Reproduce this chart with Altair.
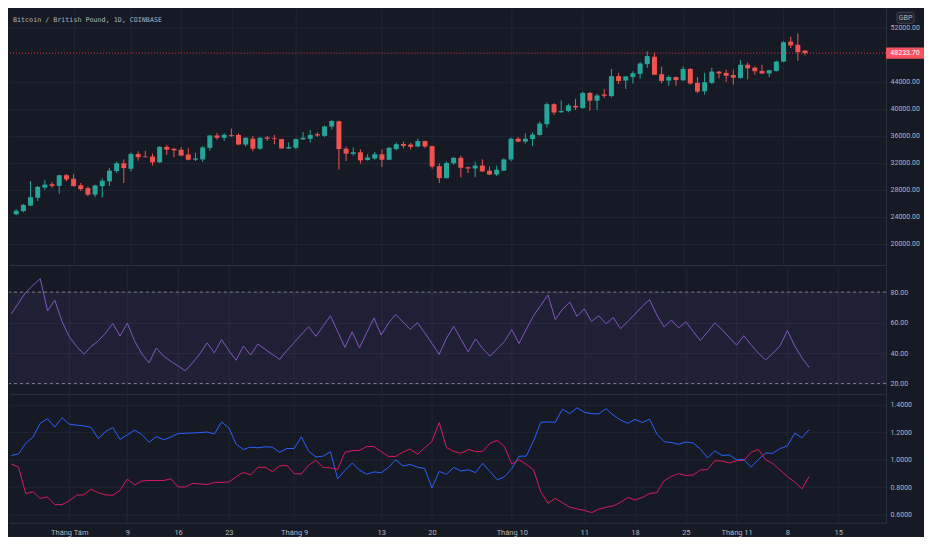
import altair as alt
import pandas as pd

# ---------------- data ----------------
start_date = "2021-07-24"

opens = [24390, 24870, 25680, 26830, 28350, 28830, 28590, 30170, 29640, 28690,
         28260, 27300, 28550, 29260, 30790, 31940, 31130, 33320, 32940, 32940,
         32080, 34370, 34090, 33940, 33230, 32460, 32510, 34230, 36050, 35710,
         36090, 36140, 34710, 35570, 34090, 35760, 35620, 35520, 34130, 34230,
         35470, 35570, 36240, 36000, 37380, 38150, 34090, 33320, 33560, 32410,
         32650, 33270, 32460, 34040, 34800, 34710, 34420, 35230, 34470, 31510,
         29740, 31940, 32750, 31360, 31170, 31600, 30840, 30270, 30840, 32510,
         35570, 35140, 35520, 36140, 37720, 40680, 39480, 39680, 40440, 40110,
         42350, 41200, 42110, 41870, 44830, 44170, 44690, 45170, 46600, 47700,
         45120, 44170, 44690, 44210, 45890, 43830, 42590, 43830, 45500, 45310,
         44980, 44550, 46510, 46080, 45600, 45220, 45600, 46980, 49950, 49470,
         48610]

highs = [25150, 25920, 29310, 28590, 29500, 29170, 30220, 30360, 30310, 29020,
         28500, 28780, 29690, 31270, 32180, 32510, 33510, 33700, 33800, 33370,
         34470, 34660, 34180, 34330, 34180, 33510, 34470, 36140, 36430, 36380,
         37050, 36380, 35810, 35950, 35810, 36000, 36140, 35560, 35040, 35620,
         36570, 36860, 36520, 37530, 38290, 38240, 34420, 34280, 33990, 33270,
         33610, 33990, 34330, 35040, 35140, 34950, 35570, 35280, 34560, 31940,
         32220, 32840, 33080, 31460, 32180, 32510, 31460, 31600, 32650, 35760,
         35810, 36380, 36520, 38150, 40970, 40820, 41250, 40770, 41490, 42490,
         42490, 42210, 42920, 45890, 45310, 44790, 45550, 46940, 48510, 48320,
         46220, 44930, 44790, 46270, 46030, 44690, 45310, 46080, 45600, 45790,
         45790, 47220, 46840, 46270, 46510, 45790, 47130, 49990, 50660, 51140,
         48660]

lows = [24290, 24680, 25580, 26350, 28020, 28310, 27400, 29260, 28450, 27880,
        27060, 26920, 26870, 28590, 30500, 29020, 30740, 32320, 32800, 31600,
        31990, 33180, 32840, 32990, 32370, 32270, 32130, 33800, 35420, 35280,
        35850, 34610, 34420, 33700, 33940, 35230, 34760, 34090, 34090, 33990,
        35380, 34990, 35850, 35810, 36900, 30980, 32270, 33040, 31890, 32370,
        32460, 31410, 32370, 33850, 34130, 33990, 34330, 34180, 31130, 29020,
        29690, 31700, 29840, 30500, 29880, 30650, 30220, 30070, 30790, 32220,
        35090, 34850, 34470, 36040, 37240, 39100, 39390, 39480, 39820, 40010,
        39720, 39820, 41590, 41680, 43640, 42920, 43740, 44450, 46030, 44980,
        43780, 43400, 43400, 44120, 43590, 42300, 42060, 43690, 44500, 43980,
        43590, 44450, 44360, 45030, 45170, 44690, 45500, 46890, 48990, 47080,
        47890]

closes = [24910, 25770, 26920, 28450, 28780, 28590, 30170, 29550, 28590, 28120,
          27300, 28640, 29360, 30840, 31940, 31220, 33320, 32840, 32840, 32080,
          34370, 33940, 33850, 33080, 32460, 32650, 34280, 36050, 35710, 36140,
          35950, 34710, 35710, 34090, 35710, 35570, 35520, 34130, 34330, 35520,
          35710, 36140, 36050, 37380, 38200, 34040, 33370, 33560, 32370, 32800,
          33270, 32460, 34230, 34760, 34520, 34370, 35230, 34420, 31460, 29740,
          31990, 32750, 31270, 31170, 31600, 30740, 30270, 30980, 32510, 35570,
          35140, 35570, 36190, 37810, 40680, 39440, 39680, 40490, 40200, 42350,
          41200, 41970, 41920, 44830, 44120, 44790, 45260, 46700, 47800, 45030,
          44120, 44690, 44260, 45890, 43740, 42540, 43930, 45500, 45220, 44880,
          44600, 46510, 45980, 45550, 45220, 45690, 46980, 49850, 49370, 48370,
          48233.70]

rsi = [65.6, 72.8, 79.8, 84.5, 88.9, 67.7, 74.7, 60.7, 50.7, 44.4,
       39.3, 44.2, 48.0, 53.1, 59.4, 51.2, 59.6, 48.0, 39.5, 33.6,
       43.3, 38.0, 34.6, 31.5, 28.3, 33.6, 39.5, 46.7, 40.1, 48.8,
       41.6, 35.3, 44.6, 38.7, 45.9, 42.5, 39.1, 35.9, 41.6, 46.9,
       52.2, 57.3, 51.0, 57.7, 64.5, 54.1, 43.7, 53.9, 43.5, 53.3,
       63.0, 51.8, 59.6, 65.4, 60.5, 55.6, 59.9, 53.3, 46.3, 39.1,
       49.7, 57.5, 49.0, 40.8, 49.3, 42.9, 38.0, 42.7, 47.6, 55.4,
       46.3, 55.6, 64.5, 71.3, 78.1, 62.0, 68.8, 73.4, 64.1, 69.0,
       60.7, 64.5, 59.2, 63.3, 56.0, 60.7, 65.6, 70.7, 75.1, 65.0,
       57.1, 61.6, 56.5, 60.5, 54.3, 48.2, 53.9, 59.9, 55.4, 50.1,
       45.2, 51.4, 45.4, 39.9, 35.5, 39.9, 44.8, 54.8, 44.8, 36.8,
       30.6]

vi_plus = [1.031, 1.042, 1.120, 1.165, 1.266, 1.299, 1.238, 1.306, 1.259, 1.252,
           1.247, 1.235, 1.155, 1.205, 1.235, 1.148, 1.181, 1.216, 1.184, 1.127,
           1.169, 1.146, 1.165, 1.191, 1.193, 1.195, 1.198, 1.202, 1.188, 1.275,
           1.233, 1.113, 1.075, 1.092, 1.087, 1.094, 1.092, 1.054, 1.082, 1.082,
           1.167, 1.061, 1.021, 1.026, 1.059, 0.861, 0.922, 0.976, 0.925, 0.894,
           0.911, 0.906, 0.944, 1.000, 0.955, 0.965, 0.946, 0.936, 0.795, 0.915,
           0.894, 0.944, 0.918, 0.927, 0.906, 0.974, 0.913, 0.854, 0.875, 0.936,
           1.026, 1.026, 1.136, 1.273, 1.275, 1.273, 1.369, 1.336, 1.379, 1.346,
           1.336, 1.334, 1.372, 1.325, 1.289, 1.266, 1.294, 1.271, 1.296, 1.188,
           1.132, 1.125, 1.113, 1.129, 1.122, 1.078, 1.014, 1.064, 1.031, 1.035,
           1.000, 1.002, 0.946, 1.002, 1.049, 1.047, 1.082, 1.101, 1.193, 1.160,
           1.219]

vi_minus = [0.969, 0.946, 0.753, 0.767, 0.718, 0.729, 0.673, 0.673, 0.701, 0.741,
            0.744, 0.786, 0.760, 0.744, 0.741, 0.776, 0.859, 0.816, 0.845, 0.849,
            0.849, 0.849, 0.861, 0.802, 0.802, 0.828, 0.824, 0.819, 0.835, 0.835,
            0.838, 0.875, 0.908, 0.889, 0.944, 0.946, 0.913, 0.955, 0.960, 0.899,
            0.896, 0.960, 0.995, 0.944, 0.941, 0.929, 1.054, 1.066, 1.068, 1.096,
            1.096, 1.059, 1.024, 1.024, 1.056, 1.078, 1.040, 1.087, 1.132, 1.271,
            1.089, 1.061, 1.047, 1.075, 1.059, 1.061, 1.120, 1.141, 1.096, 0.969,
            1.000, 0.965, 0.927, 0.767, 0.682, 0.718, 0.687, 0.654, 0.642, 0.631,
            0.614, 0.640, 0.654, 0.664, 0.689, 0.725, 0.708, 0.725, 0.753, 0.760,
            0.847, 0.878, 0.899, 0.885, 0.889, 0.925, 0.929, 0.993, 0.991, 0.976,
            0.993, 0.995, 1.054, 1.075, 1.000, 0.972, 0.925, 0.878, 0.838, 0.788,
            0.878]

tick_dates = ["2021-08-01", "2021-08-09", "2021-08-16", "2021-08-23", "2021-09-01",
              "2021-09-13", "2021-09-20", "2021-10-01", "2021-10-11", "2021-10-18",
              "2021-10-25", "2021-11-01", "2021-11-08", "2021-11-15"]
tick_labels = ["Tháng Tám", "9", "16", "23", "Tháng 9", "13", "20", "Tháng 10",
               "11", "18", "25", "Tháng 11", "8", "15"]

price_ticks = [20000, 24000, 28000, 32000, 36000, 40000, 44000, 52000]
rsi_ticks = [20, 40, 60, 80]
rsi_levels = [80, 20]
vortex_ticks = [0.6, 0.8, 1.0, 1.2, 1.4]

title_text = "Bitcoin / British Pound, 1D, COINBASE"
currency = "GBP"

# ---------------- frames ----------------
n = len(opens)
dates = pd.date_range(start_date, periods=n, freq="D")
t0 = pd.Timestamp(start_date)
tick_idx = [(pd.Timestamp(d) - t0).days for d in tick_dates]

df = pd.DataFrame({
    "i": list(range(n)),
    "date": dates.strftime("%Y-%m-%d"),
    "open": opens, "high": highs, "low": lows, "close": closes,
    "rsi": rsi, "vip": vi_plus, "vim": vi_minus,
})
df["lo"] = df[["open", "close"]].min(axis=1)
df["hi"] = df[["open", "close"]].max(axis=1)
df["dir"] = ["up" if c >= o else "down" for o, c in zip(opens, closes)]

last_df = pd.DataFrame({"price": [closes[-1]], "label": [f"{closes[-1]:.2f}"]})
band_df = pd.DataFrame({"top": [rsi_levels[0]], "bottom": [rsi_levels[1]]})
lvl_df = pd.DataFrame({"level": rsi_levels})
one = pd.DataFrame({"k": [0]})

# ---------------- style ----------------
BG = "#161a25"
GRID = "#222532"
SEP = "#2e3240"
TXT = "#b2b5be"
UP = "#26a69a"
DOWN = "#ef5350"
W = 878
H1, H2, H3 = 257, 129, 129

xsc = alt.Scale(domain=[-0.31, 120.6], nice=False, zero=False)
label_expr = "".join(f"datum.value == {v} ? '{l}' : " for v, l in zip(tick_idx, tick_labels)) + "''"


def xaxis(show):
    return alt.Axis(values=tick_idx, tickCount=len(tick_idx) + 5, grid=True,
                    gridColor=GRID, gridWidth=1,
                    ticks=False, domain=True, domainColor=SEP, domainWidth=1,
                    labels=show, labelExpr=label_expr, labelColor=TXT,
                    labelFont="Roboto", labelFontSize=7.5, labelPadding=6,
                    labelOverlap=False, labelFlush=False, title=None)


def yaxis(vals, fmt):
    return alt.Axis(orient="right", values=vals, tickCount=len(vals) + 5,
                    format=fmt, grid=True,
                    gridColor=GRID, ticks=False, domain=True, domainColor=SEP,
                    labelColor=TXT, labelFont="Roboto", labelFontSize=7,
                    labelPadding=4, labelOverlap=False, labelFlush=False,
                    title=None)


X = alt.X("i:Q", scale=xsc, axis=xaxis(False))
color = alt.Color("dir:N", scale=alt.Scale(domain=["up", "down"], range=[UP, DOWN]), legend=None)

# ---------------- price panel ----------------
psc = alt.Scale(domain=[16890, 54866], nice=False, zero=False)
base = alt.Chart(df)
wicks = base.mark_rule(strokeWidth=1).encode(
    x=X, y=alt.Y("low:Q", scale=psc, axis=yaxis(price_ticks, ".2f")), y2="high:Q", color=color)
bodies = base.mark_bar(width=5).encode(
    x=alt.X("i:Q", scale=xsc), y=alt.Y("lo:Q", scale=psc), y2="hi:Q", color=color)
pline = alt.Chart(last_df).mark_rule(color="#f23645", strokeDash=[1, 2], strokeWidth=1).encode(
    y=alt.Y("price:Q", scale=psc))
ptag = alt.Chart(last_df).mark_point(shape="M-1,-0.3H1V0.3H-1Z", filled=True, size=1444,
                                     color="#f7525f", opacity=1).encode(
    x=alt.value(W + 19), y=alt.Y("price:Q", scale=psc))
ptext = alt.Chart(last_df).mark_text(color="#ffffff", font="Roboto", fontSize=7,
                                     align="center", baseline="middle").encode(
    x=alt.value(W + 19), y=alt.Y("price:Q", scale=psc), text="label:N")
gbp_box = alt.Chart(one).mark_rect(fill="#1e222d", stroke="#4a4e5a", strokeWidth=0.8,
                                   cornerRadius=2).encode(
    x=alt.value(W + 11), x2=alt.value(W + 28), y=alt.value(4), y2=alt.value(15))
gbp_txt = alt.Chart(one).mark_text(color=TXT, font="Roboto", fontSize=7,
                                   align="center", baseline="middle").encode(
    x=alt.value(W + 19.5), y=alt.value(9.8), text=alt.value(currency))
title = alt.Chart(one).mark_text(color=TXT, font="DejaVu Sans Mono", fontSize=6.7,
                                 align="left", baseline="middle").encode(
    x=alt.value(4), y=alt.value(12), text=alt.value(title_text))

price_panel = alt.layer(wicks, bodies, pline, ptag, ptext, gbp_box, gbp_txt, title).properties(
    width=W, height=H1)

# ---------------- RSI panel ----------------
rsc = alt.Scale(domain=[13.2, 97.8], nice=False, zero=False)
band = alt.Chart(band_df).mark_rect(color="#7e57c2", opacity=0.1).encode(
    x=alt.value(0), x2=alt.value(W),
    y=alt.Y("top:Q", scale=rsc, axis=yaxis(rsi_ticks, ".2f")), y2="bottom:Q")
lvls = alt.Chart(lvl_df).mark_rule(color="#787b86", strokeDash=[3, 3], strokeWidth=1).encode(
    y=alt.Y("level:Q", scale=rsc))
rline = alt.Chart(df).mark_line(color="#7e57c2", strokeWidth=1).encode(
    x=X, y=alt.Y("rsi:Q", scale=rsc))
rsi_panel = alt.layer(band, lvls, rline).properties(width=W, height=H2)

# ---------------- Vortex panel ----------------
vsc = alt.Scale(domain=[0.541, 1.480], nice=False, zero=False)
vplus = alt.Chart(df).mark_line(strokeWidth=1, color="#2962ff").encode(
    x=alt.X("i:Q", scale=xsc, axis=xaxis(True)),
    y=alt.Y("vip:Q", scale=vsc, axis=yaxis(vortex_ticks, ".4f")))
vminus = alt.Chart(df).mark_line(strokeWidth=1, color="#d81b60").encode(
    x=alt.X("i:Q", scale=xsc), y=alt.Y("vim:Q", scale=vsc))
vortex_panel = alt.layer(vplus, vminus).properties(width=W, height=H3)

chart = alt.vconcat(price_panel, rsi_panel, vortex_panel, spacing=0).properties(
    padding={"left": 0, "top": 0, "right": 0, "bottom": 0},
    background=BG,
).configure_view(stroke=None).configure_concat(spacing=0)

chart.save("out.html", embed_options={"renderer": "svg", "actions": False})
